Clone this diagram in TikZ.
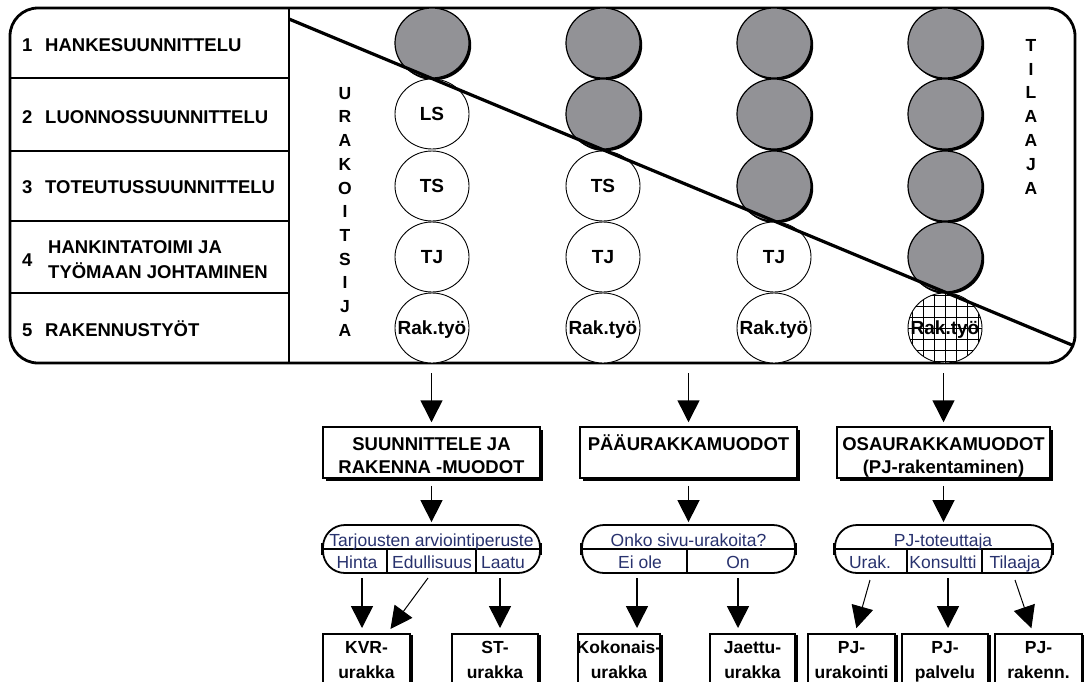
\documentclass[tikz,border=0pt]{standalone}
\usepackage{fontspec}
\setmainfont{Liberation Sans}
\usetikzlibrary{arrows.meta,shadows,shapes.geometric}
\definecolor{darkfill}{RGB}{146,146,150}
\definecolor{ovaltext}{RGB}{40,50,110}
\newcommand{\fsz}[1]{\fontsize{#1}{#1}\selectfont}
\begin{document}
\begin{tikzpicture}[x=1pt,y=-1pt,
  rowlab/.style={anchor=west,inner sep=0pt,font=\fsz{18.5}\bfseries,text height=13.2pt,text depth=0pt},
  vlet/.style={inner sep=0pt,font=\fsz{17.5}\bfseries,text height=12.5pt,text depth=0pt},
  circbase/.style={ellipse,draw,minimum width=74pt,minimum height=70pt,inner sep=0pt},
  darkc/.style={circbase,line width=1.2pt,fill=darkfill,drop shadow={shadow xshift=2.2pt,shadow yshift=-2.2pt,fill=black,opacity=1}},
  whitec/.style={circbase,line width=0.9pt,fill=white},
  gridc/.style={whitec,path picture={\foreach \k in {-3,...,3}{\draw[line width=0.9pt] ([xshift=\k*11pt]path picture bounding box.north) -- ([xshift=\k*11pt]path picture bounding box.south); \draw[line width=0.9pt] ([yshift=\k*11pt]path picture bounding box.west) -- ([yshift=\k*11pt]path picture bounding box.east);}}},
  clab/.style={inner sep=0pt,font=\fsz{19}\bfseries,text height=13.6pt,text depth=0pt},
  bigbox/.style={draw,line width=1.5pt,fill=white,minimum height=51pt,inner sep=0pt,drop shadow={shadow xshift=2.5pt,shadow yshift=-2.5pt,fill=black,opacity=1}},
  btext/.style={anchor=base,inner sep=0pt,font=\fsz{18.5}\bfseries},
  oval/.style={draw,line width=1.8pt,fill=white,rounded corners=22pt,minimum height=48pt,inner sep=0pt},
  otext/.style={anchor=base,inner sep=0pt,font=\fsz{17.5},text=ovaltext},
  smallbox/.style={draw,line width=1.5pt,fill=white,minimum height=60pt,anchor=north,inner sep=0pt,drop shadow={shadow xshift=2.5pt,shadow yshift=-1pt,fill=black,opacity=1}},
  stext/.style={anchor=base,inner sep=0pt,font=\fsz{17.5}\bfseries},
  arr/.style={line width=1.5pt,-{Triangle[length=22pt,width=22pt]}},
  sep/.style={line width=1.2pt},
  tab/.style={line width=3pt}
]
\clip (0,0) rectangle (1084,681);
\fill[white] (0,0) rectangle (1084,681);

% frame and table
\draw[line width=2.8pt,rounded corners=28pt] (10,8) rectangle (1075,363);
\draw[line width=2.4pt] (289,8) -- (289,363);
\foreach \yy in {78,151,221,293} \draw[line width=2.4pt] (10,\yy) -- (289,\yy);

\node[rowlab] (n1) at (22,45) {1};
\node[rowlab] (r1) at (45,45) {HANKESUUNNITTELU};
\node[rowlab] (n2) at (22,117) {2};
\node[rowlab] (r2) at (45,117) {LUONNOSSUUNNITTELU};
\node[rowlab] (n3) at (22,187) {3};
\node[rowlab] (r3) at (45,187) {TOTEUTUSSUUNNITTELU};
\node[rowlab] (n4) at (22,260) {4};
\node[rowlab] (r4a) at (48,247) {HANKINTATOIMI JA};
\node[rowlab] (r4b) at (48,272) {TYÖMAAN JOHTAMINEN};
\node[rowlab] (n5) at (22,330) {5};
\node[rowlab] (r5) at (45,330) {RAKENNUSTYÖT};

% circles
\node[darkc] (c11) at (432,43) {};
\node[darkc] (c21) at (603,43) {};
\node[darkc] (c22) at (603,114) {};
\node[darkc] (c31) at (774,43) {};
\node[darkc] (c32) at (774,114) {};
\node[darkc] (c33) at (774,186) {};
\node[darkc] (c41) at (945,43) {};
\node[darkc] (c42) at (945,114) {};
\node[darkc] (c43) at (945,186) {};
\node[darkc] (c44) at (945,257) {};

\node[whitec] (c12) at (432,114) {};
\node[whitec] (c13) at (432,186) {};
\node[whitec] (c14) at (432,257) {};
\node[whitec] (c15) at (432,328) {};
\node[whitec] (c23) at (603,186) {};
\node[whitec] (c24) at (603,257) {};
\node[whitec] (c25) at (603,328) {};
\node[whitec] (c34) at (774,257) {};
\node[whitec] (c35) at (774,328) {};
\node[gridc] (c45) at (945,328) {};

\node[clab] (l12) at (c12.center) {LS};
\node[clab] (l13) at (c13.center) {TS};
\node[clab] (l14) at (c14.center) {TJ};
\node[clab] (l15) at (c15.center) {Rak.työ};
\node[clab] (l23) at (c23.center) {TS};
\node[clab] (l24) at (c24.center) {TJ};
\node[clab] (l25) at (c25.center) {Rak.työ};
\node[clab] (l34) at (c34.center) {TJ};
\node[clab] (l35) at (c35.center) {Rak.työ};
\node[clab] (l45) at (c45.center) {Rak.työ};

% diagonal
\coordinate (dA) at (289,19);
\coordinate (dB) at (1072,345);
\draw[line width=3.2pt] (dA) -- (dB);

% vertical words
\foreach \l [count=\i] in {U,R,A,K,O,I,T,S,I,J,A}
  \node[vlet] (u\i) at (345,{93+23.7*(\i-1)}) {\l};
\foreach \l [count=\i] in {T,I,L,A,A,J,A}
  \node[vlet] (t\i) at (1031,{45+23.8*(\i-1)}) {\l};

% level 1 boxes
\node[bigbox,minimum width=217pt] (b1) at (431.5,452.5) {};
\node[bigbox,minimum width=217pt] (b2) at (688.5,452.5) {};
\node[bigbox,minimum width=213pt] (b3) at (943.5,452.5) {};
\node[btext] (b1a) at (431.5,450) {SUUNNITTELE JA};
\node[btext] (b1b) at (431.5,473) {RAKENNA -MUODOT};
\node[btext] (b2a) at (688.5,450) {PÄÄURAKKAMUODOT};
\node[btext] (b3a) at (943.5,450) {OSAURAKKAMUODOT};
\node[btext] (b3b) at (943.5,473) {(PJ-rakentaminen)};

\coordinate (f1) at (431.5,373);
\coordinate (f2) at (688.5,373);
\coordinate (f3) at (943.5,373);
\draw[arr,shorten >=4pt] (f1) -- (b1.north);
\draw[arr,shorten >=4pt] (f2) -- (b2.north);
\draw[arr,shorten >=4pt] (f3) -- (b3.north);

% ovals
\node[oval,minimum width=217pt] (o1) at (431.5,549) {};
\node[oval,minimum width=213pt] (o2) at (688.5,549) {};
\node[oval,minimum width=217pt] (o3) at (943.5,549) {};
\foreach \o in {o1,o2,o3}{
  \draw[sep] (\o.west) -- (\o.east);
  \draw[tab] ([yshift=6pt]\o.west) -- ([yshift=-6pt]\o.west);
  \draw[tab] ([yshift=6pt]\o.east) -- ([yshift=-6pt]\o.east);
}
\draw[sep] (387,549) -- (387,573);
\draw[sep] (476,549) -- (476,573);
\draw[sep] (687,549) -- (687,573);
\draw[sep] (907,549) -- (907,573);
\draw[sep] (982,549) -- (982,573);

\node[otext] (q1) at (431.5,546) {Tarjousten arviointiperuste};
\node[otext] (a11) at (357,568) {Hinta};
\node[otext] (a12) at (432,568) {Edullisuus};
\node[otext] (a13) at (503,568) {Laatu};
\node[otext] (q2) at (688.5,546) {Onko sivu-urakoita?};
\node[otext] (a21) at (640,568) {Ei ole};
\node[otext] (a22) at (738,568) {On};
\node[otext] (q3) at (943,546) {PJ-toteuttaja};
\node[otext] (a31) at (870,568) {Urak.};
\node[otext] (a32) at (943,568) {Konsultti};
\node[otext] (a33) at (1015,568) {Tilaaja};

\draw[arr,shorten <=7pt,shorten >=2pt] (b1.south) -- (o1.north);
\draw[arr,shorten <=7pt,shorten >=2pt] (b2.south) -- (o2.north);
\draw[arr,shorten <=7pt,shorten >=2pt] (b3.south) -- (o3.north);

% final boxes
\node[smallbox,minimum width=87pt] (kvr) at (366.5,633) {};
\node[smallbox,minimum width=86pt] (st) at (495,633) {};
\node[smallbox,minimum width=82pt] (kok) at (619,633) {};
\node[smallbox,minimum width=85pt] (jae) at (752.5,633) {};
\node[smallbox,minimum width=87pt] (pju) at (851.5,633) {};
\node[smallbox,minimum width=86pt] (pjp) at (945,633) {};
\node[smallbox,minimum width=87pt] (pjr) at (1038.5,633) {};

\node[stext] at (366.5,653) {KVR-};
\node[stext] at (366.5,678) {urakka};
\node[stext] at (495,653) {ST-};
\node[stext] at (495,678) {urakka};
\node[stext] at (619,653) {Kokonais-};
\node[stext] at (619,678) {urakka};
\node[stext] at (752.5,653) {Jaettu-};
\node[stext] at (752.5,678) {urakka};
\node[stext] at (851.5,653) {PJ-};
\node[stext] at (851.5,678) {urakointi};
\node[stext] at (945,653) {PJ-};
\node[stext] at (945,678) {palvelu};
\node[stext] at (1038.5,653) {PJ-};
\node[stext] at (1038.5,678) {rakenn.};

\coordinate (s1) at (362,578);
\coordinate (s2) at (428,578);
\coordinate (s3) at (500,578);
\coordinate (s4) at (637,578);
\coordinate (s5) at (738,578);
\coordinate (s6) at (870,580);
\coordinate (s7) at (948,578);
\coordinate (s8) at (1015,580);
\draw[arr,shorten >=5pt] (s1) -- (s1 |- kvr.north);
\draw[arr,line width=1pt,shorten >=5pt] (s2) -- ([xshift=21pt]kvr.north);
\draw[arr,shorten >=5pt] (s3) -- (s3 |- st.north);
\draw[arr,shorten >=5pt] (s4) -- (s4 |- kok.north);
\draw[arr,shorten >=5pt] (s5) -- (s5 |- jae.north);
\draw[arr,line width=1pt,shorten >=5pt] (s6) -- ([xshift=3.5pt]pju.north);
\draw[arr,shorten >=5pt] (s7) -- (s7 |- pjp.north);
\draw[arr,line width=1pt,shorten >=5pt] (s8) -- ([xshift=-5.5pt]pjr.north);
\end{tikzpicture}
\end{document}
